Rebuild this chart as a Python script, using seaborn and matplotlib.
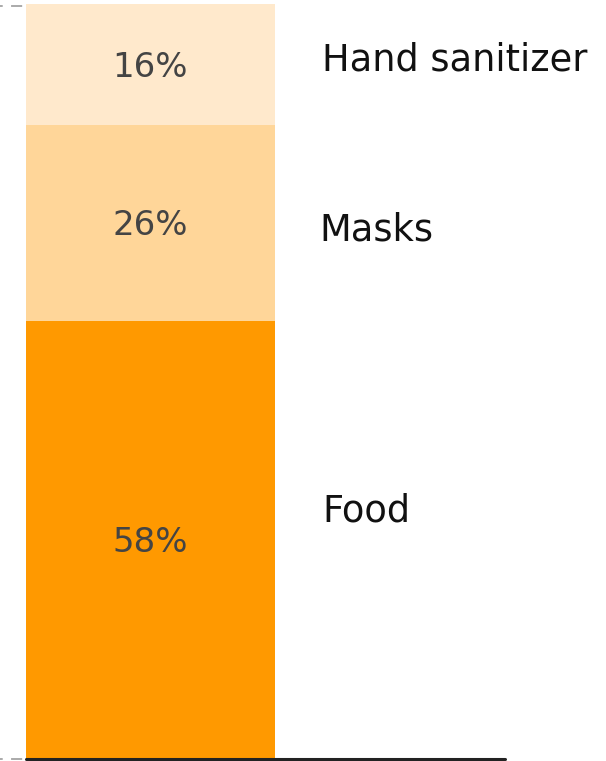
import matplotlib
matplotlib.use("Agg")
import matplotlib.pyplot as plt
import seaborn as sns
import pandas as pd
import numpy as np

# Shares of spending, bottom to top of the stack
categories = ["Food", "Masks", "Hand sanitizer"]
shares = [58, 26, 16]
share_labels = ["58%", "26%", "16%"]
colors = ["#FF9900", "#FFD699", "#FFE9CC"]

# Where the category names sit (data coords)
name_pos = [(0.552, 32.8), (0.543, 70.1), (0.552, 92.6)]

sns.set_theme(style="white")
plt.rcParams["font.family"] = ["DejaVu Sans"]

fig = plt.figure(figsize=(6.06, 7.61), dpi=100)
ax = fig.add_axes([0, 2 / 761, 505 / 606, 755 / 761])
ax.grid(False)

tops = np.cumsum(shares)
bottoms = tops - np.array(shares)
df = pd.DataFrame({"group": ["all"] * len(categories),
                   "cat": categories, "top": tops})

# Stack drawn tallest first so each lower segment sits on top of the next
for i in reversed(range(len(categories))):
    sns.barplot(data=df.iloc[[i]], x="group", y="top", color=colors[i],
                saturation=1, width=0.8, ax=ax, linewidth=0, zorder=2,
                errorbar=None)

ax.set_xlim(-0.4835, 1.139)
ax.set_ylim(0, 100)

# Dashed guides at 0% and 100%, running in under the bar
for yv in (0, 99.7):
    ax.plot([-0.4835, 0], [yv, yv], color="#AAAAAA", lw=1.4,
            ls=(4.3, (5.7, 4.3)), zorder=1, clip_on=False)
ax.axhline(0, xmin=26 / 505, xmax=1, color="#222222", lw=2.2, zorder=3,
           clip_on=False)

for b, s, lab in zip(bottoms, shares, share_labels):
    ax.text(0, b + s / 2 - 0.35, lab, ha="center", va="center", fontsize=24.5,
            color="#444444", zorder=4)

for (xp, yp), name in zip(name_pos, categories):
    ax.text(xp, yp, name, ha="left", va="center", fontsize=26.5,
            color="#111111", zorder=4, clip_on=False)

ax.set_xlabel("")
ax.set_ylabel("")
ax.set_xticks([])
ax.set_yticks([])
for sp in ax.spines.values():
    sp.set_visible(False)
ax.patch.set_alpha(0)

fig.savefig("out.png", dpi=100)
